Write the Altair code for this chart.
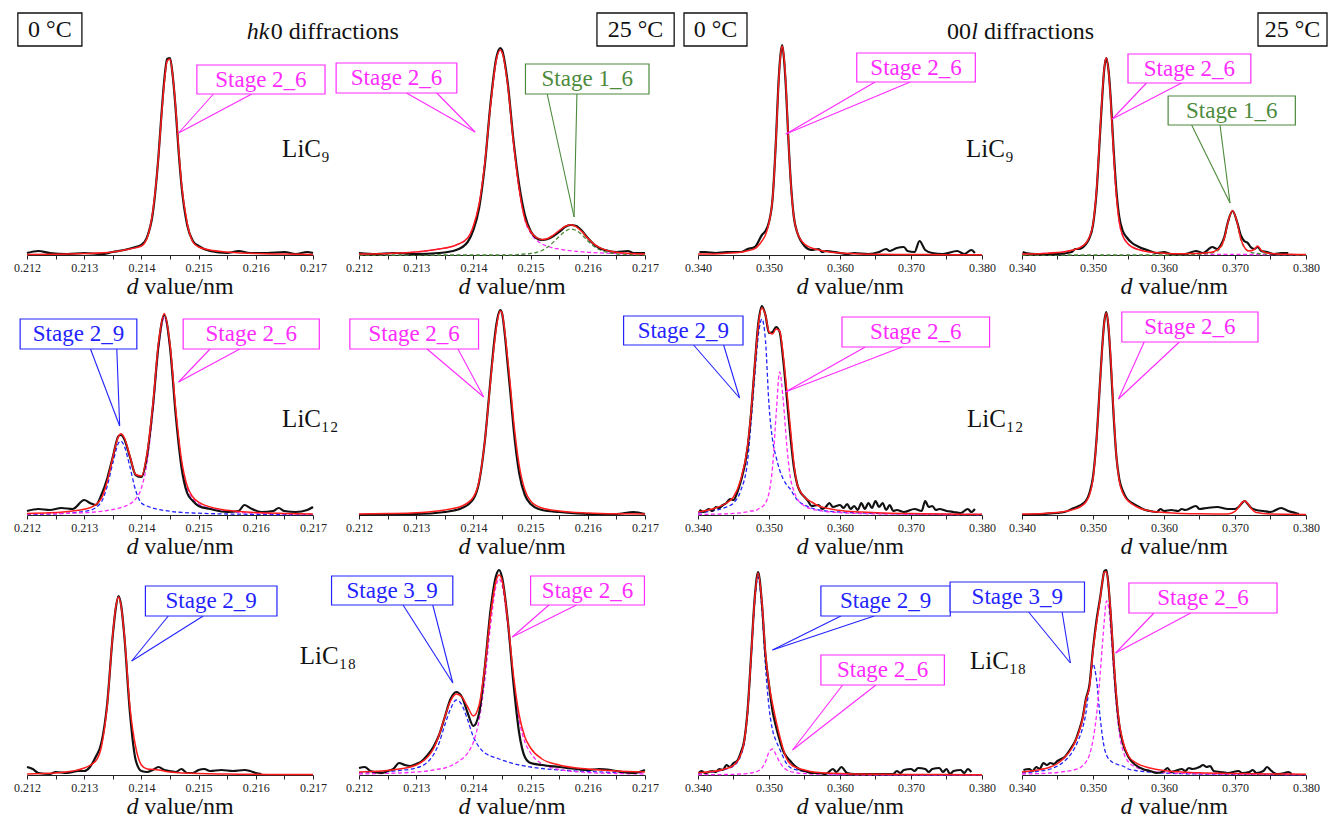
import altair as alt
import pandas as pd

FONT = "Liberation Serif"
PALETTE = {"k": "#111111", "r": "#ff1c1c", "m": "#ff2bff", "b": "#2323ff", "g": "#4c8a3c"}

HK0_DOMAIN = [0.212, 0.217]
OOL_DOMAIN = [0.340, 0.380]
HK0_TICKS = [0.212, 0.2125, 0.213, 0.2135, 0.214, 0.2145, 0.215, 0.2155, 0.216, 0.2165, 0.217]
OOL_TICKS = [0.340, 0.345, 0.350, 0.355, 0.360, 0.365, 0.370, 0.375, 0.380]
INTENSITY_DOMAIN = [0, 210]
HK0_TITLE_AT = (0.21395, 0.21405)
OOL_TITLE_AT = (0.35556, 0.35641)
TITLE_Y = -32

# ---------------- Row 1 : LiC9 ----------------
P1_FIT_X = [0.2120, 0.2125, 0.2130, 0.2135, 0.2138, 0.2140, 0.2141, 0.2142, 0.2143, 0.21435, 0.2144, 0.21445, 0.2145,
            0.21455, 0.2146, 0.21465, 0.2147, 0.2148, 0.2149, 0.2150, 0.2152, 0.2155, 0.2160, 0.2165, 0.2170]
P1_FIT_Y = [0.6, 0.8, 1.4, 3, 6, 9, 17, 44, 99, 138, 172, 194, 196, 178, 147, 107, 72, 32, 13, 8, 5, 3, 1.4, 1, 0.5]
P1_OBS_X = [0.2120, 0.2122, 0.2124, 0.2127, 0.2130, 0.2133, 0.2135, 0.2137, 0.2139, 0.2140, 0.2141, 0.2142, 0.2143,
            0.21435, 0.2144, 0.21445, 0.2145, 0.21455, 0.2146, 0.21465, 0.2147, 0.2148, 0.2149, 0.2150, 0.2152, 0.2155,
            0.2157, 0.2159, 0.2162, 0.2165, 0.2167, 0.2169, 0.2170]
P1_OBS_Y = [2, 4, 2, 1, 2, 1, 3, 5, 8, 10, 18, 42, 100, 140, 175, 196, 197, 178, 145, 104, 70, 30, 14, 9, 4, 2, 4, 2,
            2, 3, 1, 3, 2]

P2_FIT_X = [0.2120, 0.2125, 0.2130, 0.2134, 0.2137, 0.2139, 0.2140, 0.2141, 0.2142, 0.2143, 0.2144, 0.21447, 0.2145,
            0.2146, 0.2147, 0.2148, 0.2149, 0.2150, 0.2151, 0.2152, 0.2153, 0.2154, 0.2155, 0.2156, 0.2157, 0.2158,
            0.2159, 0.2160, 0.2161, 0.2162, 0.2164, 0.2167, 0.2170]
P2_FIT_Y = [1, 1.6, 3, 6, 10, 17, 29, 51, 92, 150, 195, 205, 203, 170, 113, 66, 36, 23.5, 17.5, 15.5, 16.5, 20, 24.5,
            28.5, 30.3, 28.2, 23.2, 16.7, 11.4, 7.6, 3.7, 1.7, 1]
P2_MAIN_Y = [1, 1.6, 3, 6, 10, 17, 29, 51, 92, 150, 195, 205, 203, 170, 113, 66, 35, 22, 15, 11, 8.5, 7, 6, 5, 4.3,
             3.7, 3.2, 2.7, 2.4, 2.1, 1.7, 1.2, 1]
P2_SIDE_Y = [0, 0, 0, 0, 0, 0, 0, 0, 0, 0, 0, 0, 0, 0, 0, 0.5, 1, 1.5, 2.5, 4.5, 8, 13, 18.5, 23.5, 26, 24.5, 20, 14,
             9, 5.5, 2, 0.5, 0]
P2_OBS_X = [0.2120, 0.2123, 0.2126, 0.2130, 0.2134, 0.2137, 0.2139, 0.2140, 0.2141, 0.2142, 0.2143, 0.2144, 0.21447,
            0.2145, 0.2146, 0.2147, 0.2148, 0.2149, 0.2150, 0.2151, 0.2152, 0.2153, 0.2154, 0.2155, 0.2156, 0.2157,
            0.2158, 0.2159, 0.2160, 0.2161, 0.2162, 0.2163, 0.2165, 0.2167, 0.2168, 0.2170]
P2_OBS_Y = [2, 1, 2, 1, 2, 5, 13, 25, 47, 90, 152, 197, 207, 205, 172, 115, 70, 40, 24, 17, 15, 16, 19, 23, 28, 30,
            29, 24, 17, 11, 7, 5, 3, 4, 2, 2]

P3_FIT_X = [0.340, 0.342, 0.344, 0.346, 0.347, 0.348, 0.349, 0.3495, 0.350, 0.3505, 0.351, 0.3513, 0.3516, 0.35186,
            0.3521, 0.3524, 0.3527, 0.3531, 0.3535, 0.354, 0.3545, 0.355, 0.356, 0.357, 0.358, 0.360, 0.363, 0.366,
            0.370, 0.375, 0.380]
P3_FIT_Y = [1, 1, 1.7, 2.7, 4.2, 6.3, 14, 20, 32, 56, 117, 165, 198, 209, 199, 168, 121, 69, 38, 22, 15, 11, 7, 5,
            3.5, 2, 1, 0.7, 0.5, 0.3, 0.2]
P3_OBS_X = [0.3402, 0.341, 0.3425, 0.344, 0.346, 0.347, 0.348, 0.349, 0.3495, 0.350, 0.3505, 0.351, 0.3513, 0.3516,
            0.35186, 0.3521, 0.3524, 0.3527, 0.3531, 0.3535, 0.354, 0.3545, 0.355, 0.356, 0.357, 0.3575, 0.358, 0.360,
            0.361, 0.362, 0.364, 0.3655, 0.3665, 0.367, 0.368, 0.369, 0.3695, 0.3705, 0.3712, 0.372, 0.373, 0.3745,
            0.3765, 0.3775, 0.3785, 0.379]
P3_OBS_Y = [3, 3, 2, 3, 3, 6, 8, 20, 24, 33, 56, 118, 167, 199, 210, 197, 165, 120, 70, 38, 22, 14, 9, 5, 6, 3, 4, 2,
            1, 2, 1, 3, 6, 4, 7, 8, 4, 3, 14, 5, 2, 1, 4, 1, 5, 2]

P4_FIT_X = [0.340, 0.343, 0.346, 0.347, 0.348, 0.349, 0.3495, 0.350, 0.3505, 0.351, 0.3513, 0.3516, 0.35187, 0.3522,
            0.3525, 0.3529, 0.3533, 0.3537, 0.3542, 0.3547, 0.3555, 0.3565, 0.358, 0.360, 0.362, 0.364, 0.366, 0.367,
            0.368, 0.3685, 0.369, 0.36965, 0.3703, 0.3708, 0.3713, 0.372, 0.3727, 0.3732, 0.3737, 0.3745, 0.376,
            0.378, 0.380]
P4_FIT_Y = [1, 1.6, 3.2, 4.7, 7, 12, 18, 31, 65, 124, 160, 188, 197, 183, 154, 102, 59, 33, 19, 13, 8, 5.3, 3, 1.8,
            1.2, 1.5, 2.3, 3.3, 8.2, 16.7, 32.6, 44.6, 32.6, 16.6, 8.1, 3.9, 5.5, 9, 4.7, 2, 1, 0.7, 0.5]
P4_MAIN_Y = [1, 1.6, 3.2, 4.7, 7, 12, 18, 31, 65, 124, 160, 188, 197, 183, 154, 102, 59, 33, 19, 13, 8, 5.3, 3, 1.8,
             1.2, 1, 0.8, 0.7, 0.7, 0.6, 0.6, 0.6, 0.6, 0.5, 0.5, 0.5, 0.5, 0.5, 0.5, 0.4, 0.4, 0.3, 0.3]
P4_SIDE_Y = [0, 0, 0, 0, 0, 0, 0, 0, 0, 0, 0, 0, 0, 0, 0, 0, 0, 0, 0, 0, 0, 0, 0, 0, 0, 0.5, 1.5, 2.6, 7.5, 16, 32,
             44, 32, 16, 7.5, 3.3, 2, 1.5, 1.2, 1, 0.5, 0.3, 0.2]
P4_OBS_X = [0.3401, 0.3405, 0.342, 0.345, 0.347, 0.3475, 0.348, 0.349, 0.3495, 0.350, 0.3505, 0.351, 0.3513, 0.3516,
            0.35187, 0.3522, 0.3525, 0.3529, 0.3533, 0.3537, 0.3542, 0.3547, 0.3555, 0.3565, 0.358, 0.359, 0.360,
            0.361, 0.363, 0.3645, 0.3655, 0.3668, 0.3675, 0.368, 0.3685, 0.369, 0.36965, 0.3703, 0.3708, 0.3713,
            0.3718, 0.3722, 0.3727, 0.3732, 0.3737, 0.3745, 0.3755, 0.3765, 0.3775]
P4_OBS_Y = [3, 2, 1, 1, 3, 6, 6, 11, 17, 30, 63, 122, 158, 187, 197, 184, 156, 106, 64, 38, 24, 18, 12, 8, 4, 2, 3,
            1, 1, 4, 2, 8, 6, 10, 18, 33, 44, 33, 20, 14, 12, 8, 6, 8, 4, 3, 1, 2, 2]

# ---------------- Row 2 : LiC12 ----------------
P5_FIT_X = [0.2120, 0.2124, 0.2128, 0.2131, 0.2133, 0.2134, 0.2135, 0.2136, 0.21364, 0.2137, 0.2138, 0.2139, 0.2140,
            0.2141, 0.2142, 0.2143, 0.2144, 0.2145, 0.2146, 0.2147, 0.2148, 0.2149, 0.2150, 0.2152, 0.2155, 0.2160,
            0.2165, 0.2170]
P5_FIT_Y = [1.6, 2.2, 4.1, 7.3, 16.7, 33, 57.5, 78.7, 81.3, 77.5, 59, 40.5, 39, 62, 110, 172.5, 201.5, 170.7, 106,
            55.6, 29.2, 18, 12.8, 8.1, 4.7, 2.5, 1.6, 1.1]
P5_BLUE_Y = [0.6, 1, 2.3, 4.7, 13, 28.5, 52, 72, 74, 69, 48, 24.5, 12, 9, 7, 5.5, 4.5, 3.7, 3, 2.6, 2.2, 2, 1.8, 1.4,
             1, 0.7, 0.4, 0.3]
P5_MAG_Y = [1, 1.2, 1.8, 2.6, 3.7, 4.5, 5.5, 6.7, 7.3, 8.5, 11, 16, 27, 53, 103, 167, 197, 167, 103, 53, 27, 16, 11,
            6.7, 3.7, 1.8, 1.2, 0.8]
P5_OBS_X = [0.2120, 0.2122, 0.2124, 0.2126, 0.2128, 0.2130, 0.2131, 0.2132, 0.2133, 0.2134, 0.2135, 0.2136, 0.21364,
            0.2137, 0.2138, 0.2139, 0.2140, 0.2141, 0.2142, 0.2143, 0.2144, 0.2145, 0.2146, 0.2147, 0.2148, 0.2149,
            0.2150, 0.2152, 0.2155, 0.2157, 0.2158, 0.2159, 0.2161, 0.2163, 0.2164, 0.2165, 0.2167, 0.2169, 0.2170]
P5_OBS_Y = [4, 6, 5, 7, 6, 15, 12, 10, 20, 36, 58, 79, 80, 76, 58, 40, 38, 60, 108, 170, 200, 168, 100, 48, 22, 14,
            9, 6, 3, 4, 10, 7, 3, 4, 7, 4, 3, 5, 8]

P6_FIT_X = [0.2120, 0.2125, 0.2130, 0.2135, 0.2138, 0.2140, 0.2141, 0.2142, 0.2143, 0.21435, 0.2144, 0.21447, 0.2145,
            0.21455, 0.2146, 0.21465, 0.2147, 0.2148, 0.2149, 0.2150, 0.2152, 0.2155, 0.2160, 0.2165, 0.2170]
P6_FIT_Y = [1, 1.4, 2.2, 5, 9, 18, 34, 74, 134, 163, 187, 204, 202, 183, 156, 127, 96, 50, 25, 14, 7, 4, 2, 1.2, 1]
P6_OBS_X = [0.2120, 0.2125, 0.2130, 0.2135, 0.2138, 0.2140, 0.2141, 0.2142, 0.2143, 0.21435, 0.2144, 0.21447, 0.2145,
            0.21455, 0.2146, 0.21465, 0.2147, 0.2148, 0.2149, 0.2150, 0.2152, 0.2155, 0.2160, 0.2165, 0.2168, 0.2170]
P6_OBS_Y = [0, 1, 1, 3, 7, 16, 33, 74, 136, 166, 190, 205, 202, 180, 150, 120, 88, 42, 20, 11, 5, 3, 1, 1, 3, 1]

P7_FIT_X = [0.340, 0.342, 0.344, 0.345, 0.346, 0.347, 0.3475, 0.348, 0.3485, 0.349, 0.3495, 0.350, 0.3505, 0.351,
            0.3515, 0.352, 0.3525, 0.353, 0.3535, 0.354, 0.355, 0.356, 0.357, 0.358, 0.360, 0.363, 0.366, 0.370,
            0.375, 0.380]
P7_FIT_Y = [3, 6, 12, 18, 35, 70, 105, 150, 190, 207, 200, 183, 181, 186, 184, 160, 125, 88, 52, 30, 18, 13, 9, 7,
            4.5, 3, 2, 1.5, 1, 0.7]
P7_BLUE_Y = [2, 4, 8, 12, 24, 55, 95, 140, 180, 196, 175, 110, 75, 58, 45, 36, 30, 26, 20, 15, 10, 7, 5, 4, 3, 2,
             1.5, 1, 0.7, 0.5]
P7_MAG_Y = [0.5, 0.8, 1.2, 1.6, 2.2, 3.2, 4, 4, 6, 8, 12, 22, 48, 100, 143, 115, 70, 38, 24, 16, 9, 6, 4.5, 3.5,
            2.3, 1.4, 1, 0.7, 0.5, 0.3]
P7_OBS_X = [0.3402, 0.3408, 0.3415, 0.342, 0.3425, 0.343, 0.3435, 0.344, 0.3445, 0.345, 0.3455, 0.346, 0.347,
            0.3475, 0.348, 0.3485, 0.349, 0.3495, 0.350, 0.3505, 0.351, 0.3515, 0.352, 0.3525, 0.353, 0.3535, 0.354,
            0.3545, 0.355, 0.3555, 0.356, 0.357, 0.3575, 0.358, 0.3585, 0.359, 0.360, 0.3605, 0.361, 0.3615, 0.362,
            0.3625, 0.363, 0.3635, 0.364, 0.3645, 0.365, 0.3655, 0.366, 0.3665, 0.367, 0.3675, 0.368, 0.369, 0.3705,
            0.3715, 0.372, 0.3725, 0.373, 0.3735, 0.374, 0.375, 0.376, 0.377, 0.378, 0.3785, 0.379]
P7_OBS_Y = [5, 3, 6, 4, 8, 7, 10, 12, 16, 15, 22, 33, 68, 104, 150, 192, 209, 200, 182, 183, 188, 183, 155, 118, 80,
            48, 30, 22, 18, 14, 9, 10, 6, 8, 12, 8, 10, 7, 11, 6, 9, 5, 12, 6, 12, 7, 14, 8, 12, 5, 10, 4, 5, 3, 6,
            4, 14, 8, 9, 5, 6, 4, 3, 2, 6, 3, 6]

P8_FIT_X = [0.340, 0.343, 0.346, 0.347, 0.348, 0.349, 0.3495, 0.350, 0.3505, 0.351, 0.3513, 0.3516, 0.35188, 0.3522,
            0.3525, 0.3529, 0.3533, 0.3537, 0.3542, 0.3547, 0.3555, 0.3565, 0.358, 0.360, 0.365, 0.369, 0.370,
            0.3705, 0.371, 0.37136, 0.3718, 0.3723, 0.373, 0.375, 0.380]
P8_FIT_Y = [1, 1.6, 3.4, 5, 7.5, 13, 20, 36, 75, 133, 167, 193, 202, 188, 157, 103, 58, 34, 22, 16, 11, 7, 4, 2.5,
            1.2, 1.1, 3.6, 7.6, 12.6, 14, 11.5, 6.5, 2.5, 0.9, 0.5]
P8_OBS_X = [0.340, 0.343, 0.346, 0.347, 0.348, 0.349, 0.3495, 0.350, 0.3505, 0.351, 0.3513, 0.3516, 0.35188, 0.3522,
            0.3525, 0.3529, 0.3533, 0.3537, 0.3542, 0.3547, 0.3555, 0.3565, 0.357, 0.358, 0.359, 0.3595, 0.360,
            0.361, 0.362, 0.3625, 0.363, 0.3645, 0.365, 0.366, 0.3675, 0.369, 0.370, 0.3705, 0.371, 0.37136, 0.3718,
            0.3723, 0.373, 0.374, 0.375, 0.3765, 0.3775, 0.3785, 0.379]
P8_OBS_Y = [0, 1, 3, 6, 9, 14, 22, 38, 76, 134, 168, 194, 203, 186, 153, 100, 58, 36, 24, 17, 12, 8, 6, 4, 3, 6, 4,
            5, 4, 6, 5, 9, 6, 7, 8, 6, 6, 8, 12, 14, 11, 7, 5, 4, 3, 7, 4, 2, 1]

# ---------------- Row 3 : LiC18 ----------------
P9_FIT_X = [0.2120, 0.2125, 0.2128, 0.2130, 0.2132, 0.2133, 0.2134, 0.2135, 0.21355, 0.2136, 0.21365, 0.2137, 0.2138,
            0.2139, 0.2140, 0.2141, 0.2143, 0.2145, 0.2150, 0.2155, 0.2160, 0.2165, 0.2170]
P9_FIT_Y = [1, 2, 4, 7, 14, 28, 68, 141, 167, 178, 167, 141, 68, 28, 10, 6, 5, 3, 1.4, 1, 0.7, 0.5, 0.4]
P9_OBS_X = [0.2120, 0.2121, 0.2122, 0.2124, 0.2125, 0.2127, 0.2129, 0.2130, 0.2131, 0.2132, 0.2133, 0.2134, 0.2135,
            0.21355, 0.2136, 0.21365, 0.2137, 0.2138, 0.2139, 0.2140, 0.2141, 0.2142, 0.2143, 0.2144, 0.2145, 0.2146,
            0.2147, 0.2148, 0.2149, 0.2150, 0.2151, 0.2152, 0.2154, 0.2156, 0.2158, 0.2159, 0.2160, 0.2161]
P9_OBS_Y = [8, 6, 2, 1, 3, 2, 4, 4, 8, 18, 32, 70, 140, 166, 179, 168, 140, 62, 15, 4, 3, 5, 8, 5, 4, 3, 6, 2, 2, 5,
            6, 4, 5, 4, 5, 4, 2, 1]

P10_FIT_X = [0.2120, 0.2124, 0.2127, 0.2130, 0.2132, 0.2133, 0.2134, 0.2135, 0.2136, 0.2137, 0.2138, 0.2139, 0.2140,
             0.2141, 0.2142, 0.2143, 0.2144, 0.21445, 0.2145, 0.2146, 0.2147, 0.2148, 0.2149, 0.2150, 0.2152, 0.2155,
             0.2160, 0.2165, 0.2170]
P10_FIT_Y = [3, 4, 6, 10, 18, 26, 40, 58, 74, 81, 78, 68, 59, 70, 108, 160, 195, 200, 195, 155, 100, 60, 38, 27, 16,
             10, 6, 4, 3]
P10_BLUE_Y = [2, 3, 4.5, 7, 13, 20, 32, 50, 66, 75, 70, 55, 38, 28, 22, 19, 17, 16, 15, 13, 11.5, 10, 9, 8, 6.5, 5,
              3.5, 2.5, 2]
P10_MAG_Y = [1, 1.5, 2, 3, 4, 5, 6, 7, 9, 12, 16, 22, 33, 55, 95, 150, 190, 196, 190, 150, 95, 55, 33, 22, 11, 5.5,
             2.5, 1.5, 1]
P10_OBS_X = [0.2120, 0.2121, 0.2122, 0.2124, 0.2125, 0.2126, 0.2127, 0.2128, 0.2129, 0.2130, 0.2131, 0.2132, 0.2133,
             0.2134, 0.2135, 0.2136, 0.2137, 0.2138, 0.2139, 0.2140, 0.2141, 0.2142, 0.2143, 0.2144, 0.21445, 0.2145,
             0.2146, 0.2147, 0.2148, 0.2149, 0.2150, 0.2152, 0.2155, 0.2158, 0.2160, 0.2162, 0.2164, 0.2166, 0.2168,
             0.2170]
P10_OBS_Y = [7, 8, 4, 2, 4, 6, 12, 10, 9, 11, 14, 20, 28, 40, 58, 76, 83, 78, 62, 49, 62, 108, 165, 200, 205, 198,
             155, 92, 42, 18, 12, 10, 8, 6, 5, 6, 5, 3, 2, 5]

P11_FIT_X = [0.340, 0.342, 0.344, 0.345, 0.346, 0.3465, 0.347, 0.3475, 0.348, 0.34846, 0.349, 0.3495, 0.350, 0.3505,
             0.351, 0.3515, 0.352, 0.3525, 0.353, 0.354, 0.355, 0.356, 0.358, 0.360, 0.365, 0.370, 0.375, 0.380]
P11_FIT_Y = [2.3, 3.4, 6.5, 9.6, 20, 33.2, 64.6, 121, 177, 202, 173, 122, 91, 71, 54, 39, 26, 16, 11, 7, 5, 3.2, 2.1,
             1.4, 0.7, 0.5, 0.4, 0.3]
P11_BLUE_Y = [2, 3, 6, 9, 19, 32, 63, 119, 174, 198, 166, 109, 68, 45, 34, 26, 18, 11, 7.5, 5, 3.5, 2.2, 1.5, 1, 0.5,
              0.3, 0.2, 0.1]
P11_MAG_Y = [0.3, 0.4, 0.5, 0.6, 1, 1.2, 1.6, 2, 3, 4, 7, 13, 23, 26, 20, 13, 8, 5, 3.5, 2, 1.5, 1, 0.6, 0.4, 0.2,
             0.2, 0.2, 0.2]
P11_OBS_X = [0.3401, 0.3405, 0.341, 0.3415, 0.342, 0.3425, 0.343, 0.3435, 0.344, 0.3445, 0.345, 0.3455, 0.346,
             0.3465, 0.347, 0.3475, 0.348, 0.34846, 0.349, 0.3495, 0.350, 0.3505, 0.351, 0.3515, 0.352, 0.3525,
             0.353, 0.3535, 0.354, 0.3545, 0.355, 0.356, 0.357, 0.358, 0.359, 0.3595, 0.3602, 0.361, 0.362, 0.365,
             0.3675, 0.368, 0.3685, 0.369, 0.370, 0.3705, 0.371, 0.372, 0.3725, 0.373, 0.374, 0.3745, 0.375, 0.3755,
             0.376, 0.377, 0.3775, 0.378, 0.3785]
P11_OBS_Y = [2, 4, 2, 3, 4, 3, 6, 5, 10, 8, 12, 14, 22, 34, 66, 122, 178, 203, 172, 120, 90, 64, 48, 35, 24, 18, 14,
             10, 7, 5, 4, 2, 2, 1, 6, 3, 8, 2, 1, 1, 1, 4, 2, 5, 6, 4, 7, 6, 3, 6, 7, 3, 6, 1, 4, 5, 2, 6, 3]

P12_FIT_X = [0.340, 0.342, 0.344, 0.345, 0.346, 0.347, 0.3475, 0.348, 0.3485, 0.349, 0.3495, 0.350, 0.3505, 0.351,
             0.3513, 0.3516, 0.3519, 0.3522, 0.3525, 0.3529, 0.3533, 0.3537, 0.3542, 0.355, 0.356, 0.358, 0.360,
             0.365, 0.370, 0.375, 0.380]
P12_FIT_Y = [3, 4.8, 8, 11.5, 17.5, 26.5, 33.5, 42.5, 55, 75, 88, 124, 152, 176, 192, 203, 203, 188, 162, 117, 79,
             52, 34, 19, 12.5, 7, 4.5, 2.2, 1.5, 1.1, 0.7]
P12_BLUE_Y = [2, 3.5, 6, 9, 14, 22, 28, 36, 46, 62, 90, 111, 95, 58, 40, 27, 20, 16, 14, 12, 11, 10, 9, 6, 4.5, 3, 2,
              1, 0.7, 0.5, 0.3]
P12_MAG_Y = [1, 1.3, 2, 2.5, 3.5, 4.5, 5.5, 6.5, 9, 13, 20, 35, 60, 100, 128, 155, 174, 168, 145, 105, 68, 42, 25,
             13, 8, 4, 2.5, 1.2, 0.8, 0.6, 0.4]
P12_OBS_X = [0.3402, 0.341, 0.3415, 0.342, 0.3425, 0.343, 0.3435, 0.344, 0.3445, 0.345, 0.346, 0.347, 0.3475, 0.348,
             0.3485, 0.349, 0.3495, 0.350, 0.3505, 0.351, 0.3513, 0.3516, 0.3519, 0.3522, 0.3525, 0.3529, 0.3533,
             0.3537, 0.3542, 0.355, 0.356, 0.357, 0.358, 0.359, 0.360, 0.3605, 0.361, 0.362, 0.3625, 0.363, 0.3635,
             0.364, 0.365, 0.3655, 0.366, 0.3665, 0.367, 0.368, 0.369, 0.3705, 0.371, 0.372, 0.3725, 0.373, 0.374,
             0.3745, 0.375, 0.3755, 0.376, 0.377, 0.3775, 0.378]
P12_OBS_Y = [5, 6, 4, 8, 6, 12, 10, 12, 11, 14, 18, 28, 34, 44, 56, 76, 90, 126, 155, 177, 192, 204, 205, 188, 160,
             115, 76, 50, 32, 18, 10, 6, 4, 2, 4, 7, 3, 5, 6, 4, 7, 6, 8, 10, 8, 9, 4, 3, 2, 4, 2, 3, 5, 2, 4, 8, 5,
             2, 1, 2, 3, 1]

# ---------------- annotations (data coordinates) ----------------
# (label, colour, box x0, box x1, box y0, box y1, leader start a, leader start b, target x, target y)
P1_CALLOUTS = [("Stage 2_6", "m", 0.21497, 0.21721, 161, 190, 0.21526, 0.21593, 0.21465, 122)]
P2_CALLOUTS = [("Stage 2_6", "m", 0.21160, 0.21371, 162, 192, 0.21283, 0.21336, 0.21403, 123),
               ("Stage 1_6", "g", 0.21491, 0.21707, 161, 191, 0.21529, 0.21581, 0.21576, 38)]
P3_CALLOUTS = [("Stage 2_6", "m", 0.36236, 0.37906, 173, 202, 0.36494, 0.36988, 0.35238, 121)]
P4_CALLOUTS = [("Stage 2_6", "m", 0.35493, 0.37223, 172, 201, 0.35753, 0.36247, 0.35272, 136),
               ("Stage 1_6", "g", 0.36058, 0.37850, 130, 159, 0.36389, 0.36789, 0.36930, 52)]
P5_CALLOUTS = [("Stage 2_9", "b", 0.21188, 0.21392, 166, 196, 0.21311, 0.21357, 0.21362, 89),
               ("Stage 2_6", "m", 0.21473, 0.21711, 166, 196, 0.21520, 0.21572, 0.21465, 133)]
P6_CALLOUTS = [("Stage 2_6", "m", 0.21184, 0.21409, 166, 196, 0.21319, 0.21373, 0.21418, 118)]
P7_CALLOUTS = [("Stage 2_9", "b", 0.32952, 0.34634, 170, 199, 0.33938, 0.34361, 0.34586, 117),
               ("Stage 2_6", "m", 0.36028, 0.38107, 168, 198, 0.36356, 0.36873, 0.35230, 123)]
P8_CALLOUTS = [("Stage 2_6", "m", 0.35406, 0.37324, 173, 203, 0.35721, 0.36216, 0.35358, 116)]
P9_CALLOUTS = [("Stage 2_9", "b", 0.21407, 0.21637, 159, 189, 0.21447, 0.21508, 0.21383, 114)]
P10_CALLOUTS = [("Stage 3_9", "b", 0.21152, 0.21364, 170, 199, 0.21277, 0.21329, 0.21364, 92),
                ("Stage 2_6", "m", 0.21500, 0.21699, 170, 199, 0.21532, 0.21580, 0.21468, 138)]
P11_CALLOUTS = [("Stage 2_9", "b", 0.35731, 0.37554, 159, 189, 0.36013, 0.36482, 0.35049, 125),
                ("Stage 2_6", "m", 0.35731, 0.37470, 90, 120, 0.36037, 0.36506, 0.35332, 25)]
P12_CALLOUTS = [("Stage 3_9", "b", 0.32987, 0.34880, 163, 193, 0.34093, 0.34565, 0.34682, 112),
                ("Stage 2_6", "m", 0.35506, 0.37592, 162, 192, 0.35859, 0.36377, 0.35318, 122)]

# temperature boxes: (label, x0, x1, y0, y1)
P1_BOXES = [("0 °C", 0.21184, 0.21296, 209, 242)]
P2_BOXES = [("25 °C", 0.21616, 0.21751, 209, 242)]
P3_BOXES = [("0 °C", 0.33803, 0.34690, 209, 242)]
P4_BOXES = [("25 °C", 0.37324, 0.38296, 209, 242)]

# free text: (text, x, y, italic, size, align)
P1_NOTES = [("hk", 0.21624, 223, True, 24, "right"), ("0 diffractions", 0.21626, 223, False, 24, "left"),
            ("LiC₉", 0.21646, 106, False, 25, "left")]
P3_NOTES = [("00", 0.37845, 223, False, 24, "right"), ("l", 0.37894, 223, True, 24, "center"),
            ("diffractions", 0.38028, 223, False, 24, "left"), ("LiC₉", 0.37775, 106, False, 25, "left")]
P5_NOTES = [("LiC₁₂", 0.21646, 96, False, 25, "left")]
P7_NOTES = [("LiC₁₂", 0.37789, 96, False, 25, "left")]
P9_NOTES = [("LiC₁₈", 0.21677, 119, False, 25, "left")]
P11_NOTES = [("LiC₁₈", 0.37831, 114, False, 25, "left")]


def build_panel(kind, width, obs, fit, comps, callouts=(), boxes=(), notes=(), xrange=None):
    hk0 = kind == "hk0"
    dom = HK0_DOMAIN if hk0 else OOL_DOMAIN
    ticks = HK0_TICKS if hk0 else OOL_TICKS
    mult = 1000 if hk0 else 100
    t_at = HK0_TITLE_AT if hk0 else OOL_TITLE_AT
    if xrange is None:
        xscale = alt.Scale(domain=dom, nice=False, zero=False)
    else:
        xscale = alt.Scale(domain=dom, nice=False, zero=False, range=xrange)
    yscale = alt.Scale(domain=INTENSITY_DOMAIN, nice=False, zero=False)
    axis = alt.Axis(values=ticks, title=None, grid=False,
                    labelExpr=f"abs(datum.value*{mult} - round(datum.value*{mult})) < 0.01 ? format(datum.value, '.3f') : ''",
                    labelFont=FONT, labelFontSize=12, labelColor="#222", labelPadding=3, labelOverlap=False,
                    labelFlush=False, domainColor="#222", domainWidth=1, tickColor="#222", tickSize=4, tickWidth=1)

    def X(f="x"):
        return alt.X(f"{f}:Q", scale=xscale, axis=axis)

    def Y(f="y"):
        return alt.Y(f"{f}:Q", scale=yscale, axis=None)

    layers = []
    fx, fy = fit
    for ys, ck in comps:
        assert len(ys) == len(fx)
        df = pd.DataFrame({"x": fx, "y": ys})
        layers.append(alt.Chart(df).mark_line(color=PALETTE[ck], strokeWidth=1.3, strokeDash=[4, 2.5],
                                              interpolate="monotone").encode(x=X(), y=Y()))
    ox, oy = obs
    assert len(ox) == len(oy)
    layers.append(alt.Chart(pd.DataFrame({"x": ox, "y": oy})).mark_line(
        color=PALETTE["k"], strokeWidth=2.2, interpolate="monotone").encode(x=X(), y=Y()))
    assert len(fx) == len(fy)
    layers.append(alt.Chart(pd.DataFrame({"x": fx, "y": fy})).mark_line(
        color=PALETTE["r"], strokeWidth=1.5, interpolate="monotone").encode(x=X(), y=Y()))

    if callouts:
        rules, rects, labels = [], [], []
        for (t, ck, bx0, bx1, by0, by1, la, lb, tx, ty) in callouts:
            c = PALETTE[ck]
            rules.append({"x": la, "y": by0, "x2": tx, "y2": ty, "c": c})
            rules.append({"x": lb, "y": by0, "x2": tx, "y2": ty, "c": c})
            rects.append({"x": bx0, "x2": bx1, "y": by0, "y2": by1, "c": c})
            labels.append({"x": (bx0 + bx1) / 2, "y": (by0 + by1) / 2, "t": t, "c": c})
        layers.append(alt.Chart(pd.DataFrame(rules)).mark_rule(strokeWidth=1.1).encode(
            x=X(), y=Y(), x2=alt.X2("x2"), y2=alt.Y2("y2"), color=alt.Color("c:N", scale=None)))
        layers.append(alt.Chart(pd.DataFrame(rects)).mark_rect(fill="white", strokeWidth=1.2).encode(
            x=X(), y=Y(), x2=alt.X2("x2"), y2=alt.Y2("y2"), stroke=alt.Stroke("c:N", scale=None)))
        layers.append(alt.Chart(pd.DataFrame(labels)).mark_text(
            font=FONT, fontSize=23, baseline="middle", align="center").encode(
            x=X(), y=Y(), text="t:N", color=alt.Color("c:N", scale=None)))

    if boxes:
        rects = [{"x": b[1], "x2": b[2], "y": b[3], "y2": b[4]} for b in boxes]
        labels = [{"x": (b[1] + b[2]) / 2, "y": (b[3] + b[4]) / 2, "t": b[0]} for b in boxes]
        layers.append(alt.Chart(pd.DataFrame(rects)).mark_rect(
            fill="white", stroke="#111", strokeWidth=1.3).encode(x=X(), y=Y(), x2=alt.X2("x2"), y2=alt.Y2("y2")))
        layers.append(alt.Chart(pd.DataFrame(labels)).mark_text(
            font=FONT, fontSize=24, color="#111", baseline="middle", align="center").encode(x=X(), y=Y(), text="t:N"))

    all_notes = list(notes) + [("d", t_at[0], TITLE_Y, True, 24, "right"),
                               ("value/nm", t_at[1], TITLE_Y, False, 24, "left")]
    for (t, x, y, italic, size, align) in all_notes:
        df = pd.DataFrame({"x": [x], "y": [y], "t": [t]})
        kw = dict(font=FONT, fontSize=size, color="#111", baseline="middle", align=align)
        if italic:
            kw["fontStyle"] = "italic"
        layers.append(alt.Chart(df).mark_text(**kw).encode(x=X(), y=Y(), text="t:N"))

    return alt.layer(*layers).properties(width=width, height=210)


HK0_W = 286
# column 3 cell is 291 wide with the plot drawn from 7 to 291; column 4 cell is 278 wide, plot from -6 to 278
C3_W, C3_RANGE = 291, [7, 291]
C4_W, C4_RANGE = 278, [-6, 278]

p1 = build_panel("hk0", HK0_W, (P1_OBS_X, P1_OBS_Y), (P1_FIT_X, P1_FIT_Y), [], P1_CALLOUTS, P1_BOXES, P1_NOTES)
p2 = build_panel("hk0", HK0_W, (P2_OBS_X, P2_OBS_Y), (P2_FIT_X, P2_FIT_Y), [(P2_MAIN_Y, "m"), (P2_SIDE_Y, "g")],
                 P2_CALLOUTS, P2_BOXES)
p3 = build_panel("00l", C3_W, (P3_OBS_X, P3_OBS_Y), (P3_FIT_X, P3_FIT_Y), [], P3_CALLOUTS, P3_BOXES, P3_NOTES,
                 xrange=C3_RANGE)
p4 = build_panel("00l", C4_W, (P4_OBS_X, P4_OBS_Y), (P4_FIT_X, P4_FIT_Y), [(P4_MAIN_Y, "m"), (P4_SIDE_Y, "g")],
                 P4_CALLOUTS, P4_BOXES, xrange=C4_RANGE)
p5 = build_panel("hk0", HK0_W, (P5_OBS_X, P5_OBS_Y), (P5_FIT_X, P5_FIT_Y), [(P5_BLUE_Y, "b"), (P5_MAG_Y, "m")],
                 P5_CALLOUTS, (), P5_NOTES)
p6 = build_panel("hk0", HK0_W, (P6_OBS_X, P6_OBS_Y), (P6_FIT_X, P6_FIT_Y), [], P6_CALLOUTS)
p7 = build_panel("00l", C3_W, (P7_OBS_X, P7_OBS_Y), (P7_FIT_X, P7_FIT_Y), [(P7_BLUE_Y, "b"), (P7_MAG_Y, "m")],
                 P7_CALLOUTS, (), P7_NOTES, xrange=C3_RANGE)
p8 = build_panel("00l", C4_W, (P8_OBS_X, P8_OBS_Y), (P8_FIT_X, P8_FIT_Y), [], P8_CALLOUTS, xrange=C4_RANGE)
p9 = build_panel("hk0", HK0_W, (P9_OBS_X, P9_OBS_Y), (P9_FIT_X, P9_FIT_Y), [], P9_CALLOUTS, (), P9_NOTES)
p10 = build_panel("hk0", HK0_W, (P10_OBS_X, P10_OBS_Y), (P10_FIT_X, P10_FIT_Y), [(P10_BLUE_Y, "b"), (P10_MAG_Y, "m")],
                  P10_CALLOUTS)
p11 = build_panel("00l", C3_W, (P11_OBS_X, P11_OBS_Y), (P11_FIT_X, P11_FIT_Y), [(P11_BLUE_Y, "b"), (P11_MAG_Y, "m")],
                  P11_CALLOUTS, (), P11_NOTES, xrange=C3_RANGE)
p12 = build_panel("00l", C4_W, (P12_OBS_X, P12_OBS_Y), (P12_FIT_X, P12_FIT_Y), [(P12_BLUE_Y, "b"), (P12_MAG_Y, "m")],
                  P12_CALLOUTS, xrange=C4_RANGE)

chart = alt.concat(p1, p2, p3, p4, p5, p6, p7, p8, p9, p10, p11, p12, columns=4,
                   spacing=alt.RowColnumber(row=50, column=46), bounds="flush").properties(
    padding={"left": 13, "top": 12, "right": 0, "bottom": 0}
).configure(background="white").configure_view(strokeWidth=0, strokeOpacity=0).configure_axis(grid=False)

chart.save("out.html", embed_options={"renderer": "svg", "actions": False})
